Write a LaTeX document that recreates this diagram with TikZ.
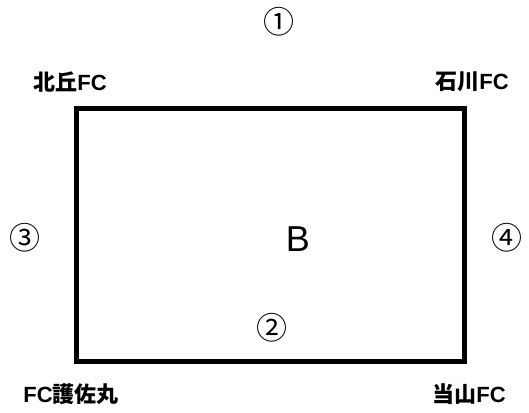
\documentclass[tikz,border=0pt]{standalone}
\usepackage{fontspec}
\setmainfont{Liberation Sans}
\newfontfamily\jpfont{Noto Sans CJK JP}
\newfontfamily\jpbold{Noto Sans CJK JP Bold}
\newcommand\jb[1]{{\jpbold #1}}
\begin{document}
\begin{tikzpicture}[x=1pt,y=-1pt,
  team/.style={font=\fontsize{22}{26}\selectfont\bfseries, inner sep=0pt},
  num/.style={font=\fontsize{31}{34}\selectfont\jpfont, inner sep=0pt},
  field/.style={draw=black, line width=5pt}]
\useasboundingbox (0,0) rectangle (529,412);
\node[field, minimum width=388pt, minimum height=253pt, inner sep=0pt] (f) at (270,234.5) {};
\node[num] (n1) at (279,22) {①};
\node[num] (n3) at (25,238) {③};
\node[num] (n4) at (507,238) {④};
\node[num] (n2) at (272,328) {②};
\node[font=\fontsize{36}{40}\selectfont, inner sep=0pt] (b) at (298,239) {B};
\node[team] (t1) at (70,82) {\jb{北丘}FC};
\node[team] (t2) at (472,82) {\jb{石川}FC};
\node[team] (t3) at (71,394) {FC\jb{護佐丸}};
\node[team] (t4) at (469,394) {\jb{当山}FC};
\end{tikzpicture}
\end{document}
